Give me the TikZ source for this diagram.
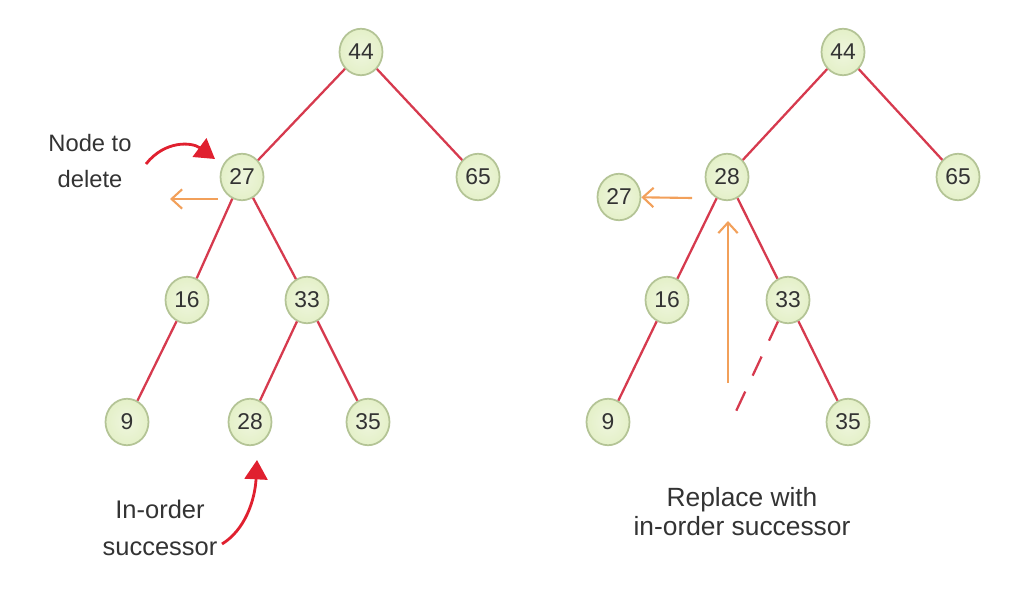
\documentclass[tikz,border=0pt]{standalone}
\usepackage{fontspec}
\setmainfont{Liberation Sans}
\usepackage{tikz}
\usetikzlibrary{
  arrows.meta,%
  calc,%
  shapes.geometric,%
  positioning
}
\definecolor{nodefill}{HTML}{E4F0C8}
\definecolor{nodeline}{HTML}{B4C496}
\definecolor{edgered}{HTML}{D63A4E}
\definecolor{arrred}{HTML}{E0202F}
\definecolor{arrorange}{HTML}{F2A05A}
\definecolor{textgray}{HTML}{333333}
\tikzset{>=latex}
\tikzset{key/.style={ellipse, draw=nodeline, line width=1pt, inner color=nodefill!60, outer color=nodefill,
  minimum width=0.86cm, minimum height=0.93cm, inner sep=0pt, font=\fontsize{13}{13}\selectfont, text=textgray}}
\tikzset{tree/.style={edgered, line width=1.3pt}}
\tikzset{moved/.style={arrorange, line width=1.2pt, -{Straight Barb[length=6pt,width=11pt]}}}
\tikzset{hint/.style={arrred, line width=1.6pt, -{Triangle[length=11pt,width=13pt]}}}
\tikzset{caption/.style={align=center, font=\fontsize{13.5}{21}\selectfont, text=textgray}}

\begin{document}
\begin{tikzpicture}[x=0.02cm, y=-0.02cm]
  \useasboundingbox (0,0) rectangle (1020,594);
  % left tree
  \node[key] (l44) at (361,52) {44};
  \node[key] (l27) at (242,177) {27};
  \node[key] (l65) at (478,177) {65};
  \node[key] (l16) at (187,300) {16};
  \node[key] (l33) at (307,300) {33};
  \node[key] (l9) at (127,422) {9};
  \node[key] (l28) at (250,422) {28};
  \node[key] (l35) at (368,422) {35};
  \draw[tree] (l44) -- (l27);
  \draw[tree] (l44) -- (l65);
  \draw[tree] (l27) -- (l16);
  \draw[tree] (l27) -- (l33);
  \draw[tree] (l16) -- (l9);
  \draw[tree] (l33) -- (l28);
  \draw[tree] (l33) -- (l35);
  \coordinate (lout) at (170,199);
  \draw[moved] (218,199) -- (lout);
  \node[caption] (ldel) at (90,161) {Node to\\delete};
  \node[caption, font=\fontsize{14.5}{21}\selectfont] (lsucc) at (160,528) {In-order\\successor};
  \draw[hint] (146,164) .. controls (165,140) and (192,142) .. (215,159);
  \draw[hint] (222,544) .. controls (245,530) and (255,500) .. (257,460);

  % right tree
  \node[key] (r44) at (843,52) {44};
  \node[key] (r28) at (727,177) {28};
  \node[key] (r65) at (958,177) {65};
  \node[key] (r27) at (619,197) {27};
  \node[key] (r16) at (667,300) {16};
  \node[key] (r33) at (788,300) {33};
  \node[key] (r9) at (608,422) {9};
  \node[key] (r35) at (848,422) {35};
  \draw[tree] (r44) -- (r28);
  \draw[tree] (r44) -- (r65);
  \draw[tree] (r28) -- (r16);
  \draw[tree] (r28) -- (r33);
  \draw[tree] (r16) -- (r9);
  \draw[tree] (r33) -- (r35);
  \coordinate (rgap) at (731,422);
  \draw[tree, dash pattern=on 12pt off 10pt] (r33) -- (rgap);
  \draw[moved] (692,198) -- (r27);
  \coordinate (rfrom) at (728,383);
  \draw[moved] (rfrom) -- (728,221);
  \node[caption, font=\fontsize{15}{16.5}\selectfont] (rrep) at (742,512) {Replace with\\in-order successor};
\end{tikzpicture}
\end{document}
